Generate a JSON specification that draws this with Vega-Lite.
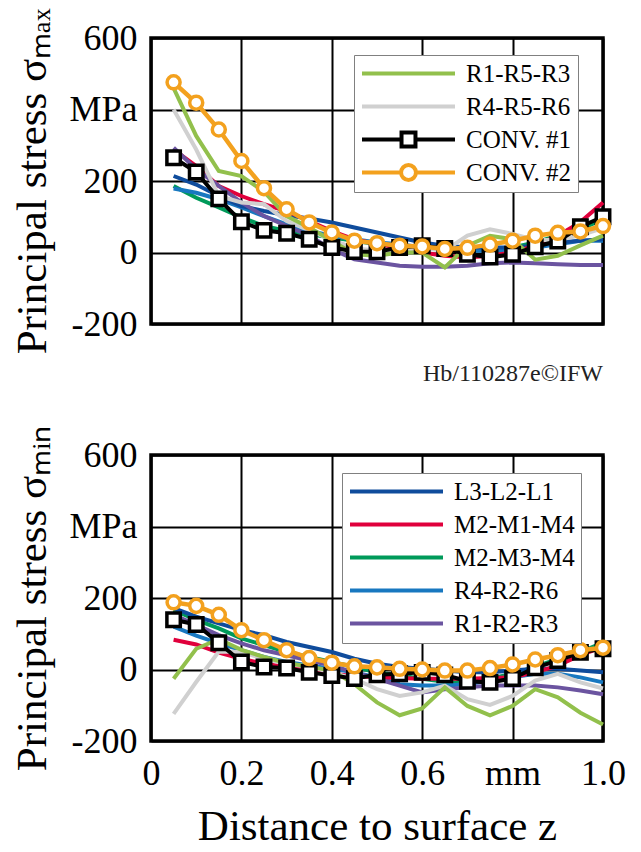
{
  "$schema": "https://vega.github.io/schema/vega-lite/v6.json",
  "background": "white",
  "padding": {"left": 10, "top": 6, "right": 5, "bottom": 0},
  "config": {
    "font": "Liberation Serif",
    "view": {"stroke": "black", "strokeWidth": 3.5},
    "axis": {"labelFont": "Liberation Serif", "labelFontSize": 36, "labelColor": "black", "titleFont": "Liberation Serif", "titleFontSize": 43, "titleFontWeight": "normal", "titleColor": "black", "gridColor": "black", "gridOpacity": 1, "gridWidth": 2, "ticks": false, "domain": false, "labelFlush": false, "labelBound": false, "labelOverlap": false},
    "legend": {"labelFont": "Liberation Serif", "labelFontSize": 25, "labelColor": "black", "strokeColor": "#808080", "fillColor": "white", "padding": 6, "rowPadding": 7, "clipHeight": 25, "symbolSize": 8649, "symbolStrokeWidth": 4, "symbolFillColor": "white", "labelOffset": 9, "orient": "none", "title": null, "labelLimit": 300}
  },
  "datasets": {"d": [
{"x":0.05,"s":"M2-M3-M4","a":186,"b":167},{"x":0.1,"s":"M2-M3-M4","a":153,"b":139},{"x":0.15,"s":"M2-M3-M4","a":126,"b":115},{"x":0.2,"s":"M2-M3-M4","a":98,"b":87},{"x":0.25,"s":"M2-M3-M4","a":74,"b":68},{"x":0.3,"s":"M2-M3-M4","a":60,"b":49},{"x":0.35,"s":"M2-M3-M4","a":51,"b":35},{"x":0.4,"s":"M2-M3-M4","a":42,"b":21},{"x":0.45,"s":"M2-M3-M4","a":33,"b":7},{"x":0.5,"s":"M2-M3-M4","a":23,"b":-8},{"x":0.55,"s":"M2-M3-M4","a":19,"b":-17},{"x":0.6,"s":"M2-M3-M4","a":14,"b":-26},{"x":0.65,"s":"M2-M3-M4","a":9,"b":-34},{"x":0.7,"s":"M2-M3-M4","a":5,"b":-36},{"x":0.75,"s":"M2-M3-M4","a":9,"b":-26},{"x":0.8,"s":"M2-M3-M4","a":14,"b":-12},{"x":0.85,"s":"M2-M3-M4","a":28,"b":7},{"x":0.9,"s":"M2-M3-M4","a":47,"b":30},{"x":0.95,"s":"M2-M3-M4","a":65,"b":49},{"x":1.0,"s":"M2-M3-M4","a":93,"b":75},
{"x":0.05,"s":"R4-R2-R6","a":179,"b":120},{"x":0.1,"s":"R4-R2-R6","a":167,"b":95},{"x":0.15,"s":"R4-R2-R6","a":149,"b":73},{"x":0.2,"s":"R4-R2-R6","a":126,"b":54},{"x":0.25,"s":"R4-R2-R6","a":102,"b":35},{"x":0.3,"s":"R4-R2-R6","a":79,"b":21},{"x":0.35,"s":"R4-R2-R6","a":60,"b":11},{"x":0.4,"s":"R4-R2-R6","a":47,"b":2},{"x":0.45,"s":"R4-R2-R6","a":37,"b":-8},{"x":0.5,"s":"R4-R2-R6","a":28,"b":-22},{"x":0.55,"s":"R4-R2-R6","a":23,"b":-41},{"x":0.6,"s":"R4-R2-R6","a":14,"b":-45},{"x":0.65,"s":"R4-R2-R6","a":9,"b":-45},{"x":0.7,"s":"R4-R2-R6","a":5,"b":-41},{"x":0.75,"s":"R4-R2-R6","a":5,"b":-31},{"x":0.8,"s":"R4-R2-R6","a":9,"b":-22},{"x":0.85,"s":"R4-R2-R6","a":14,"b":-12},{"x":0.9,"s":"R4-R2-R6","a":23,"b":-12},{"x":0.95,"s":"R4-R2-R6","a":33,"b":-22},{"x":1.0,"s":"R4-R2-R6","a":33,"b":-36},
{"x":0.05,"s":"L3-L2-L1","a":214,"b":172},{"x":0.1,"s":"L3-L2-L1","a":190,"b":148},{"x":0.15,"s":"L3-L2-L1","a":158,"b":129},{"x":0.2,"s":"L3-L2-L1","a":130,"b":110},{"x":0.25,"s":"L3-L2-L1","a":116,"b":96},{"x":0.3,"s":"L3-L2-L1","a":104,"b":77},{"x":0.35,"s":"L3-L2-L1","a":95,"b":63},{"x":0.4,"s":"L3-L2-L1","a":84,"b":49},{"x":0.45,"s":"L3-L2-L1","a":70,"b":30},{"x":0.5,"s":"L3-L2-L1","a":56,"b":16},{"x":0.55,"s":"L3-L2-L1","a":42,"b":7},{"x":0.6,"s":"L3-L2-L1","a":28,"b":2},{"x":0.65,"s":"L3-L2-L1","a":19,"b":-3},{"x":0.7,"s":"L3-L2-L1","a":14,"b":-8},{"x":0.75,"s":"L3-L2-L1","a":14,"b":-8},{"x":0.8,"s":"L3-L2-L1","a":14,"b":-3},{"x":0.85,"s":"L3-L2-L1","a":19,"b":2},{"x":0.9,"s":"L3-L2-L1","a":28,"b":2},{"x":0.95,"s":"L3-L2-L1","a":33,"b":-3},{"x":1.0,"s":"L3-L2-L1","a":37,"b":-8},
{"x":0.05,"s":"M2-M1-M4","a":288,"b":83},{"x":0.1,"s":"M2-M1-M4","a":242,"b":70},{"x":0.15,"s":"M2-M1-M4","a":186,"b":47},{"x":0.2,"s":"M2-M1-M4","a":158,"b":30},{"x":0.25,"s":"M2-M1-M4","a":135,"b":16},{"x":0.3,"s":"M2-M1-M4","a":116,"b":7},{"x":0.35,"s":"M2-M1-M4","a":88,"b":-3},{"x":0.4,"s":"M2-M1-M4","a":60,"b":-12},{"x":0.45,"s":"M2-M1-M4","a":37,"b":-19},{"x":0.5,"s":"M2-M1-M4","a":23,"b":-22},{"x":0.55,"s":"M2-M1-M4","a":14,"b":-24},{"x":0.6,"s":"M2-M1-M4","a":0,"b":-26},{"x":0.65,"s":"M2-M1-M4","a":-9,"b":-26},{"x":0.7,"s":"M2-M1-M4","a":-14,"b":-26},{"x":0.75,"s":"M2-M1-M4","a":-9,"b":-24},{"x":0.8,"s":"M2-M1-M4","a":0,"b":-22},{"x":0.85,"s":"M2-M1-M4","a":19,"b":-8},{"x":0.9,"s":"M2-M1-M4","a":47,"b":11},{"x":0.95,"s":"M2-M1-M4","a":85,"b":40},{"x":1.0,"s":"M2-M1-M4","a":140,"b":63},
{"x":0.05,"s":"R1-R2-R3","a":293,"b":153},{"x":0.1,"s":"R1-R2-R3","a":233,"b":125},{"x":0.15,"s":"R1-R2-R3","a":186,"b":96},{"x":0.2,"s":"R1-R2-R3","a":140,"b":73},{"x":0.25,"s":"R1-R2-R3","a":102,"b":54},{"x":0.3,"s":"R1-R2-R3","a":74,"b":40},{"x":0.35,"s":"R1-R2-R3","a":47,"b":25},{"x":0.4,"s":"R1-R2-R3","a":9,"b":11},{"x":0.45,"s":"R1-R2-R3","a":-19,"b":-8},{"x":0.5,"s":"R1-R2-R3","a":-28,"b":-26},{"x":0.55,"s":"R1-R2-R3","a":-37,"b":-45},{"x":0.6,"s":"R1-R2-R3","a":-40,"b":-64},{"x":0.65,"s":"R1-R2-R3","a":-40,"b":-55},{"x":0.7,"s":"R1-R2-R3","a":-37,"b":-50},{"x":0.75,"s":"R1-R2-R3","a":-30,"b":-45},{"x":0.8,"s":"R1-R2-R3","a":-28,"b":-45},{"x":0.85,"s":"R1-R2-R3","a":-30,"b":-45},{"x":0.9,"s":"R1-R2-R3","a":-33,"b":-50},{"x":0.95,"s":"R1-R2-R3","a":-35,"b":-59},{"x":1.0,"s":"R1-R2-R3","a":-35,"b":-69},
{"x":0.05,"s":"R4-R5-R6","a":400,"b":-124},{"x":0.1,"s":"R4-R5-R6","a":288,"b":-35},{"x":0.15,"s":"R4-R5-R6","a":158,"b":50},{"x":0.2,"s":"R4-R5-R6","a":140,"b":49},{"x":0.25,"s":"R4-R5-R6","a":135,"b":30},{"x":0.3,"s":"R4-R5-R6","a":88,"b":16},{"x":0.35,"s":"R4-R5-R6","a":62,"b":7},{"x":0.4,"s":"R4-R5-R6","a":35,"b":-8},{"x":0.45,"s":"R4-R5-R6","a":12,"b":-26},{"x":0.5,"s":"R4-R5-R6","a":5,"b":-55},{"x":0.55,"s":"R4-R5-R6","a":8,"b":-74},{"x":0.6,"s":"R4-R5-R6","a":12,"b":-64},{"x":0.65,"s":"R4-R5-R6","a":5,"b":-45},{"x":0.7,"s":"R4-R5-R6","a":47,"b":-83},{"x":0.75,"s":"R4-R5-R6","a":65,"b":-99},{"x":0.8,"s":"R4-R5-R6","a":52,"b":-74},{"x":0.85,"s":"R4-R5-R6","a":35,"b":-31},{"x":0.9,"s":"R4-R5-R6","a":35,"b":-12},{"x":0.95,"s":"R4-R5-R6","a":48,"b":-36},{"x":1.0,"s":"R4-R5-R6","a":68,"b":-53},
{"x":0.05,"s":"R1-R5-R3","a":460,"b":-26},{"x":0.1,"s":"R1-R5-R3","a":326,"b":58},{"x":0.15,"s":"R1-R5-R3","a":228,"b":85},{"x":0.2,"s":"R1-R5-R3","a":214,"b":55},{"x":0.25,"s":"R1-R5-R3","a":170,"b":35},{"x":0.3,"s":"R1-R5-R3","a":102,"b":18},{"x":0.35,"s":"R1-R5-R3","a":70,"b":8},{"x":0.4,"s":"R1-R5-R3","a":33,"b":-3},{"x":0.45,"s":"R1-R5-R3","a":-5,"b":-41},{"x":0.5,"s":"R1-R5-R3","a":-9,"b":-92},{"x":0.55,"s":"R1-R5-R3","a":0,"b":-128},{"x":0.6,"s":"R1-R5-R3","a":0,"b":-109},{"x":0.65,"s":"R1-R5-R3","a":-42,"b":-50},{"x":0.7,"s":"R1-R5-R3","a":19,"b":-102},{"x":0.75,"s":"R1-R5-R3","a":47,"b":-128},{"x":0.8,"s":"R1-R5-R3","a":37,"b":-102},{"x":0.85,"s":"R1-R5-R3","a":-20,"b":-55},{"x":0.9,"s":"R1-R5-R3","a":-9,"b":-78},{"x":0.95,"s":"R1-R5-R3","a":20,"b":-121},{"x":1.0,"s":"R1-R5-R3","a":47,"b":-154},
{"x":0.05,"s":"CONV. #1","a":265,"b":139},{"x":0.1,"s":"CONV. #1","a":225,"b":126},{"x":0.15,"s":"CONV. #1","a":150,"b":75},{"x":0.2,"s":"CONV. #1","a":86,"b":21},{"x":0.25,"s":"CONV. #1","a":62,"b":7},{"x":0.3,"s":"CONV. #1","a":54,"b":4},{"x":0.35,"s":"CONV. #1","a":37,"b":-8},{"x":0.4,"s":"CONV. #1","a":14,"b":-17},{"x":0.45,"s":"CONV. #1","a":3,"b":-25},{"x":0.5,"s":"CONV. #1","a":2,"b":-15},{"x":0.55,"s":"CONV. #1","a":14,"b":-12},{"x":0.6,"s":"CONV. #1","a":19,"b":-8},{"x":0.65,"s":"CONV. #1","a":11,"b":-15},{"x":0.7,"s":"CONV. #1","a":-5,"b":-33},{"x":0.75,"s":"CONV. #1","a":-13,"b":-36},{"x":0.8,"s":"CONV. #1","a":-5,"b":-25},{"x":0.85,"s":"CONV. #1","a":16,"b":5},{"x":0.9,"s":"CONV. #1","a":32,"b":25},{"x":0.95,"s":"CONV. #1","a":72,"b":48},{"x":1.0,"s":"CONV. #1","a":100,"b":58},
{"x":0.05,"s":"CONV. #2","a":476,"b":188},{"x":0.1,"s":"CONV. #2","a":419,"b":178},{"x":0.15,"s":"CONV. #2","a":344,"b":153},{"x":0.2,"s":"CONV. #2","a":256,"b":110},{"x":0.25,"s":"CONV. #2","a":180,"b":82},{"x":0.3,"s":"CONV. #2","a":121,"b":54},{"x":0.35,"s":"CONV. #2","a":84,"b":32},{"x":0.4,"s":"CONV. #2","a":56,"b":19},{"x":0.45,"s":"CONV. #2","a":33,"b":9},{"x":0.5,"s":"CONV. #2","a":26,"b":6},{"x":0.55,"s":"CONV. #2","a":19,"b":2},{"x":0.6,"s":"CONV. #2","a":17,"b":0},{"x":0.65,"s":"CONV. #2","a":10,"b":-3},{"x":0.7,"s":"CONV. #2","a":13,"b":-3},{"x":0.75,"s":"CONV. #2","a":22,"b":4},{"x":0.8,"s":"CONV. #2","a":33,"b":14},{"x":0.85,"s":"CONV. #2","a":47,"b":28},{"x":0.9,"s":"CONV. #2","a":55,"b":40},{"x":0.95,"s":"CONV. #2","a":59,"b":54},{"x":1.0,"s":"CONV. #2","a":74,"b":61}
  ]},
  "data": {"name": "d"},
  "bounds": "flush",
  "spacing": 131,
  "resolve": {"scale": {"color": "independent"}, "legend": {"color": "independent"}},
  "vconcat": [
    {
      "width": 452,
      "height": 286,
      "title": {"text": "Hb/110287e©IFW", "orient": "bottom", "anchor": "end", "frame": "group", "fontSize": 24, "fontWeight": "normal", "font": "Liberation Serif", "color": "#222222", "offset": 8},
      "encoding": {
        "x": {"field": "x", "type": "quantitative", "scale": {"domain": [0, 1]}, "axis": {"values": [0, 0.2, 0.4, 0.6, 0.8, 1], "labels": false, "title": null, "grid": true}},
        "y": {"field": "a", "type": "quantitative", "scale": {"domain": [-200, 600]}, "axis": {"values": [-200, 0, 200, 400, 600], "labelExpr": "datum.value == 400 ? 'MPa' : toString(datum.value)", "labelPadding": 14, "title": "Principal stress σₘₐₓ", "titlePadding": 14, "grid": true}},
        "color": {"field": "s", "type": "nominal",
          "scale": {"domain": ["R1-R5-R3", "R4-R5-R6", "CONV. #1", "CONV. #2", "L3-L2-L1", "M2-M1-M4", "M2-M3-M4", "R4-R2-R6", "R1-R2-R3"], "range": ["#92C04C", "#D0D0D0", "#000000", "#F3A11E", "#0F4C9C", "#E0003C", "#009A5A", "#1878C0", "#6B54A0"]},
          "legend": {"values": ["R1-R5-R3", "R4-R5-R6", "CONV. #1", "CONV. #2"], "legendX": 203, "legendY": 17,
            "encode": {"symbols": {"update": {"fill": {"value": "white"}, "shape": {"signal": "datum.value == 'CONV. #1' ? 'M-1,0L-0.15,0M0.15,0L1,0M-0.15,-0.15L0.15,-0.15L0.15,0.15L-0.15,0.15Z' : datum.value == 'CONV. #2' ? 'M-1,0L-0.16,0M0.16,0L1,0M0.16,0C0.16,0.0884,0.0884,0.16,0,0.16C-0.0884,0.16,-0.16,0.0884,-0.16,0C-0.16,-0.0884,-0.0884,-0.16,0,-0.16C0.0884,-0.16,0.16,-0.0884,0.16,0Z' : 'M-1,0L1,0'"}}}}}}
      },
      "layer": [
        {"transform": [{"filter": "datum.s != 'CONV. #1' && datum.s != 'CONV. #2'"}], "mark": {"type": "line", "strokeWidth": 4}},
        {"transform": [{"filter": "datum.s == 'CONV. #1'"}], "mark": {"type": "line", "strokeWidth": 4}},
        {"transform": [{"filter": "datum.s == 'CONV. #1'"}], "mark": {"type": "point", "shape": "square", "size": 180, "filled": false, "fill": "white", "strokeWidth": 3.5, "opacity": 1}},
        {"transform": [{"filter": "datum.s == 'CONV. #2'"}], "mark": {"type": "line", "strokeWidth": 4.5}},
        {"transform": [{"filter": "datum.s == 'CONV. #2'"}], "mark": {"type": "point", "shape": "circle", "size": 170, "filled": false, "fill": "white", "strokeWidth": 3.5, "opacity": 1}}
      ]
    },
    {
      "width": 452,
      "height": 286,
      "encoding": {
        "x": {"field": "x", "type": "quantitative", "scale": {"domain": [0, 1]}, "axis": {"values": [0, 0.2, 0.4, 0.6, 0.8, 1], "labelExpr": "datum.value == 0 ? '0' : datum.value == 0.8 ? 'mm' : format(datum.value, '.1f')", "labelPadding": 15, "title": "Distance to surface z", "titlePadding": 14, "grid": true}},
        "y": {"field": "b", "type": "quantitative", "scale": {"domain": [-200, 600]}, "axis": {"values": [-200, 0, 200, 400, 600], "labelExpr": "datum.value == 400 ? 'MPa' : toString(datum.value)", "labelPadding": 14, "title": "Principal stress σₘᵢₙ", "titlePadding": 14, "grid": true}},
        "color": {"field": "s", "type": "nominal",
          "scale": {"domain": ["R1-R5-R3", "R4-R5-R6", "CONV. #1", "CONV. #2", "L3-L2-L1", "M2-M1-M4", "M2-M3-M4", "R4-R2-R6", "R1-R2-R3"], "range": ["#92C04C", "#D0D0D0", "#000000", "#F3A11E", "#0F4C9C", "#E0003C", "#009A5A", "#1878C0", "#6B54A0"]},
          "legend": {"values": ["L3-L2-L1", "M2-M1-M4", "M2-M3-M4", "R4-R2-R6", "R1-R2-R3"], "legendX": 191, "legendY": 18,
            "encode": {"symbols": {"update": {"fill": {"value": "white"}, "shape": {"value": "M-1,0L1,0"}}}}}}
      },
      "layer": [
        {"transform": [{"filter": "datum.s != 'CONV. #1' && datum.s != 'CONV. #2'"}], "mark": {"type": "line", "strokeWidth": 4}},
        {"transform": [{"filter": "datum.s == 'CONV. #1'"}], "mark": {"type": "line", "strokeWidth": 4}},
        {"transform": [{"filter": "datum.s == 'CONV. #1'"}], "mark": {"type": "point", "shape": "square", "size": 180, "filled": false, "fill": "white", "strokeWidth": 3.5, "opacity": 1}},
        {"transform": [{"filter": "datum.s == 'CONV. #2'"}], "mark": {"type": "line", "strokeWidth": 4.5}},
        {"transform": [{"filter": "datum.s == 'CONV. #2'"}], "mark": {"type": "point", "shape": "circle", "size": 170, "filled": false, "fill": "white", "strokeWidth": 3.5, "opacity": 1}}
      ]
    }
  ]
}
